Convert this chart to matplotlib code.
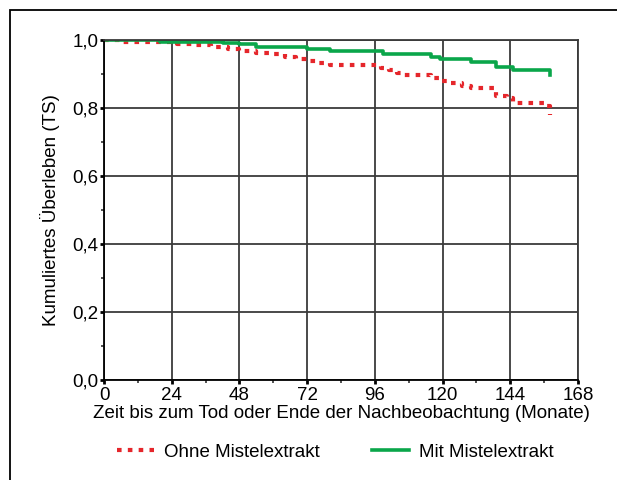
import matplotlib.pyplot as plt
from matplotlib.patches import Rectangle

plt.rcParams['font.family'] = ['Liberation Sans', 'DejaVu Sans']

# Kaplan-Meier Stufen
green_months = [0, 20, 42, 48, 54, 72, 80, 99, 116, 119, 130, 139, 145, 158]
green_surv = [1.0, 0.994, 0.990, 0.987, 0.980, 0.974, 0.967, 0.959, 0.951, 0.943, 0.934, 0.922, 0.912, 0.897]

red_months = [0, 6, 26, 32, 38, 44, 48, 54, 60, 64, 68, 72, 76, 80, 98, 101, 104, 106, 116, 119, 123, 127, 130, 139, 143, 145, 156, 158]
red_surv = [1.0, 0.994, 0.989, 0.984, 0.979, 0.973, 0.967, 0.963, 0.958, 0.951, 0.944, 0.937, 0.931, 0.927, 0.919, 0.911, 0.903, 0.897, 0.887, 0.880, 0.873, 0.865, 0.858, 0.835, 0.828, 0.814, 0.806, 0.779]

x_ticks = [0, 24, 48, 72, 96, 120, 144, 168]
y_ticks = [0.0, 0.2, 0.4, 0.6, 0.8, 1.0]
y_labels = ['0,0', '0,2', '0,4', '0,6', '0,8', '1,0']

fig = plt.figure(figsize=(6.17, 4.8), dpi=100)
ax = fig.add_axes([0.1686, 0.2083, 0.7682, 0.7084])

ax.grid(True, color='#3a3a3a', linewidth=1.3)
ax.set_axisbelow(True)

ax.plot(red_months, red_surv, drawstyle='steps-post', color='#e5262b',
        linewidth=3.0, linestyle=(0, (1.1, 1.5)), label='Ohne Mistelextrakt')
ax.plot(green_months, green_surv, drawstyle='steps-post', color='#0aa64a',
        linewidth=2.6, label='Mit Mistelextrakt')

ax.set_xlim(0, 168)
ax.set_ylim(0, 1.0)
ax.set_xticks(x_ticks)
ax.set_xticks(range(12, 168, 24), minor=True)
ax.set_yticks(y_ticks)
ax.set_yticklabels(y_labels)
ax.set_yticks([0.1, 0.3, 0.5, 0.7, 0.9], minor=True)
ax.tick_params(which='major', length=3, width=2, labelsize=13.5, color='black', pad=1)
ax.tick_params(axis='x', which='major', pad=2)
ax.tick_params(which='minor', length=2.5, width=1.2, color='#333333')

for s in ax.spines.values():
    s.set_color('#3a3a3a')
    s.set_linewidth(1.3)
ax.spines['left'].set_color('black')
ax.spines['bottom'].set_color('black')

ax.set_xlabel('Zeit bis zum Tod oder Ende der Nachbeobachtung (Monate)', fontsize=13.5, labelpad=1)
ax.set_ylabel('Kumuliertes Überleben (TS)', fontsize=13.5, labelpad=9)

fig.legend(loc='center', bbox_to_anchor=(0.543, 0.058), ncol=2, frameon=False,
           fontsize=13.5, handlelength=2.0, columnspacing=2.8, handletextpad=0.5)

fig.patches.append(Rectangle((10 / 617, -0.1), 1.2, 1.1 - 10 / 480,
                             transform=fig.transFigure, fill=False,
                             edgecolor='black', linewidth=1.3))

fig.savefig('out.png', dpi=100)
